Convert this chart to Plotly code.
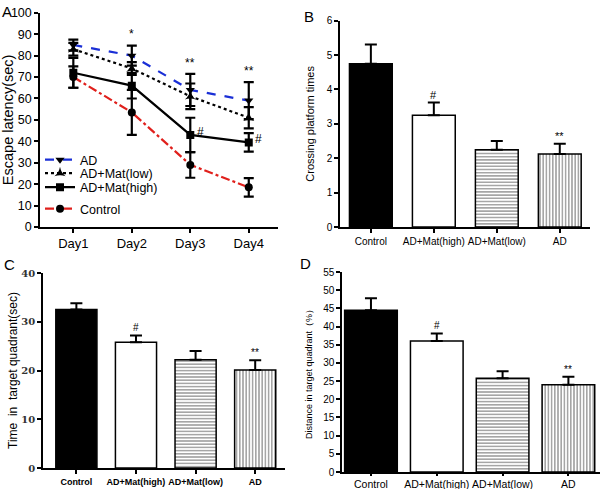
import plotly.graph_objects as go

# ---------------- data ----------------
days = ["Day1", "Day2", "Day3", "Day4"]
ad_lat = [85, 80, 64, 59]
ad_lat_err = [2.5, 4.7, 7.5, 8.6]
low_lat = [83, 74, 61, 51]
low_lat_err = [3, 3, 6, 5]
high_lat = [72, 66, 43, 39.5]
high_lat_err = [7, 6, 8, 4.3]
ctrl_lat = [70, 53.5, 29, 18.5]
ctrl_lat_err = [5, 10.5, 6, 4.3]

groups = ["Control", "AD+Mat(high)", "AD+Mat(low)", "AD"]
crossing = [4.75, 3.25, 2.25, 2.12]
crossing_err = [0.56, 0.37, 0.25, 0.3]
time_q = [32.5, 25.8, 22.2, 20.1]
time_q_err = [1.3, 1.4, 1.8, 2.0]
dist_q = [44.5, 36.0, 25.8, 24.0]
dist_q_err = [3.3, 2.1, 1.9, 2.2]

sig_bars = ["", "#", "", "**"]
sig_days = ["", "*", "**", "**"]
sig_high = ["", "", "#", "#"]

W, H = 609, 489
def px(x): return x / W
def py(y): return 1 - y / H

fig = go.Figure()

# ---------------- Panel A ----------------
line_specs = [
    ("AD", ad_lat, ad_lat_err, "#1a2fd6", "dash", "triangle-down", "legend"),
    ("AD+Mat(low)", low_lat, low_lat_err, "black", "dot", "star-triangle-up", "legend2"),
    ("AD+Mat(high)", high_lat, high_lat_err, "black", "solid", "square", "legend3"),
    ("Control", ctrl_lat, ctrl_lat_err, "#e0201c", "dashdot", "circle", "legend4"),
]
for name, vals, errs, col, dash, sym, lg in line_specs:
    fig.add_trace(go.Scatter(
        x=days, y=vals, name=name, mode="lines+markers",
        line=dict(color=col, dash=dash, width=2.2),
        marker=dict(symbol=sym, color="black", size=8),
        error_y=dict(type="data", array=errs, color="black", thickness=2.2, width=5),
        xaxis="x", yaxis="y", showlegend=True, legend=lg,
    ))

annots = []
for i, s in enumerate(sig_days):
    if s:
        annots.append(dict(x=days[i], y=ad_lat[i] + ad_lat_err[i] + 1, text=s,
                           xref="x", yref="y", showarrow=False, yanchor="bottom",
                           font=dict(size=12, color="black", family="Liberation Sans")))
for i, s in enumerate(sig_high):
    if s:
        annots.append(dict(x=i + 0.08, y=high_lat[i] + 1.5, text=s, xref="x", yref="y",
                           showarrow=False, xanchor="left",
                           font=dict(size=12, color="black", family="Liberation Sans")))

# ---------------- bar panels ----------------
def bar_traces(vals, errs, xa, ya, width, lw=1.5):
    fills = [
        dict(color="black"),
        dict(color="white"),
        dict(color="white", pattern=dict(shape="-", fgcolor="black", bgcolor="white", size=3.2, solidity=0.35)),
        dict(color="white", pattern=dict(shape="|", fgcolor="black", bgcolor="white", size=3.2, solidity=0.35)),
    ]
    for i, g in enumerate(groups):
        fig.add_trace(go.Bar(
            x=[g], y=[vals[i]], width=width, showlegend=False,
            marker=dict(line=dict(color="black", width=lw), **fills[i]),
            error_y=dict(type="data", symmetric=False, array=[errs[i]], arrayminus=[0],
                         color="black", thickness=2, width=6),
            xaxis=xa, yaxis=ya,
        ))

bar_traces(crossing, crossing_err, "x2", "y2", 0.68)
bar_traces(time_q, time_q_err, "x3", "y3", 0.69)
bar_traces(dist_q, dist_q_err, "x4", "y4", 0.8)

def bar_sig(vals, errs, xr, yr, off, size):
    for i, s in enumerate(sig_bars):
        if s:
            annots.append(dict(x=groups[i], y=vals[i] + errs[i] + off, text=s, xref=xr, yref=yr,
                               showarrow=False, yanchor="bottom",
                               font=dict(size=size, color="black", family="Liberation Sans")))

bar_sig(crossing, crossing_err, "x2", "y2", 0.0, 11)
bar_sig(time_q, time_q_err, "x3", "y3", 0.0, 10)
bar_sig(dist_q, dist_q_err, "x4", "y4", 0.0, 10)

# panel letters
for letter, x, y in [("A", 0, 1), ("B", 302, 6), ("C", 2, 254), ("D", 298, 253)]:
    annots.append(dict(x=px(x), y=py(y), xref="paper", yref="paper", text=letter,
                       showarrow=False, xanchor="left", yanchor="top",
                       font=dict(size=15, color="black", family="Liberation Sans")))

axis_common = dict(showline=True, linecolor="black", linewidth=1.5, ticks="outside",
                   tickcolor="black", ticklen=4, tickwidth=1.5, showgrid=False, zeroline=False,
                   mirror=False, automargin=False, tickangle=0)

def leg(ycenter):
    return dict(x=px(40), y=py(ycenter), xanchor="left", yanchor="middle",
                bgcolor="rgba(0,0,0,0)", font=dict(size=12.5, family="Liberation Sans"),
                itemwidth=30)

fig.update_layout(
    width=W, height=H, margin=dict(l=0, r=0, t=0, b=0),
    paper_bgcolor="white", plot_bgcolor="white",
    font=dict(family="Liberation Sans", color="black"),
    barmode="overlay",
    annotations=annots,
    legend=leg(160), legend2=leg(173.5), legend3=leg(187.5), legend4=leg(209),
    xaxis=dict(domain=[px(40), px(278)], anchor="y", type="category",
               range=[-0.57, 3.5], tickfont=dict(size=13), **axis_common),
    yaxis=dict(domain=[py(227), py(12.8)], anchor="x", range=[0, 100], dtick=10,
               tickfont=dict(size=12.5),
               title=dict(text="Escape latency(sec)", font=dict(size=14.5), standoff=6),
               **axis_common),
    xaxis2=dict(domain=[px(340), px(590)], anchor="y2", type="category",
                range=[-0.49, 3.48], tickfont=dict(size=10), **axis_common),
    yaxis2=dict(domain=[py(227), py(20.7)], anchor="x2", range=[0, 6], dtick=1,
                tickfont=dict(size=10),
                title=dict(text="Crossing platform times", font=dict(size=11), standoff=10),
                **axis_common),
    xaxis3=dict(domain=[px(43), px(285)], anchor="y3", type="category",
                range=[-0.56, 3.5],
                tickfont=dict(size=9, family="Liberation Sans", weight="bold"), **axis_common),
    yaxis3=dict(domain=[py(468), py(273)], anchor="x3", range=[0, 40], dtick=10,
                tickfont=dict(size=10, family="DejaVu Serif", weight="bold", color="#333333"),
                title=dict(text="Time  in  target quadrant(sec)", font=dict(size=12), standoff=1),
                **axis_common),
    xaxis4=dict(domain=[px(342), px(600)], anchor="y4", type="category",
                range=[-0.44, 3.48], tickfont=dict(size=10.5), **{**axis_common, "ticklen": 2}),
    yaxis4=dict(domain=[py(472), py(272)], anchor="x4", range=[0, 55], dtick=5,
                tickfont=dict(size=10),
                title=dict(text="Distance in target quadrant（%）", font=dict(size=9), standoff=9),
                **axis_common),
)

fig.write_html("out.html", post_script="document.body.style.margin='0';",
               config={"displayModeBar": False})
